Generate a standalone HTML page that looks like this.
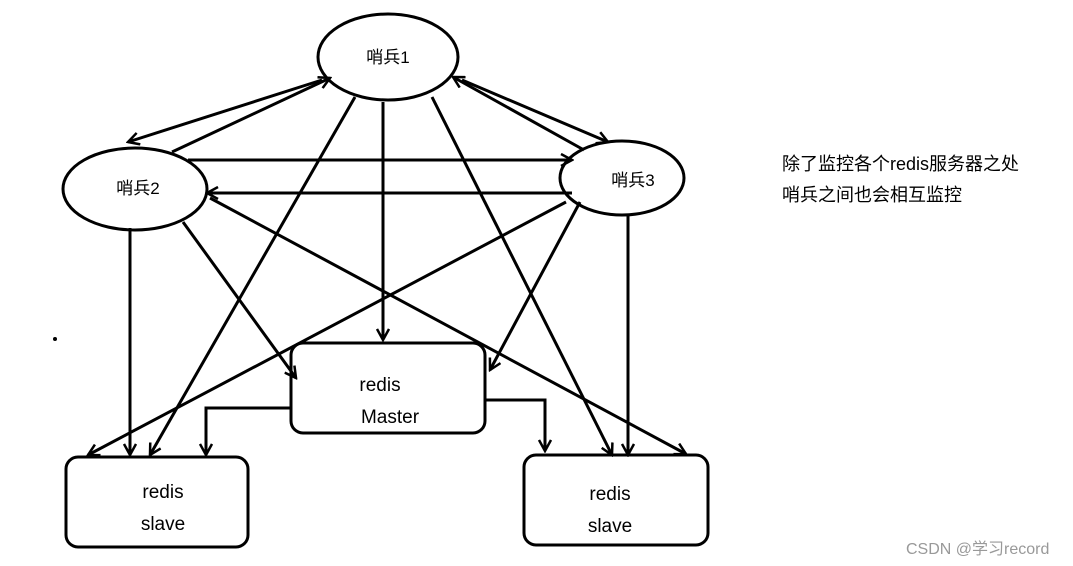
<!DOCTYPE html>
<html><head><meta charset="utf-8"><style>
body{margin:0;background:#fff;width:1073px;height:566px;overflow:hidden}
svg{display:block}
text{font-family:"Liberation Sans","Noto Sans CJK SC",sans-serif;fill:#000}
</style></head><body>
<svg width="1073" height="566" viewBox="0 0 1073 566">
<defs><marker id="a" markerWidth="14" markerHeight="14" refX="12" refY="7" orient="auto" markerUnits="userSpaceOnUse">
<path d="M1,1 L12,7 L1,13" fill="none" stroke="#000" stroke-width="2.5"/></marker></defs>
<g stroke="#000" stroke-width="3" fill="none">
<ellipse cx="388" cy="57" rx="70" ry="43"/>
<ellipse cx="135" cy="189" rx="72" ry="41"/>
<ellipse cx="622" cy="178" rx="62" ry="37"/>
<rect x="291" y="343" width="194" height="90" rx="12"/>
<rect x="66" y="457" width="182" height="90" rx="12"/>
<rect x="524" y="455" width="184" height="90" rx="12"/>
</g>
<g stroke="#000" stroke-width="3" fill="none" marker-end="url(#a)">
<line x1="322" y1="80" x2="128" y2="142"/>
<line x1="172" y1="152" x2="330" y2="78"/>
<line x1="462" y1="80" x2="608" y2="142"/>
<line x1="584" y1="150" x2="453" y2="77"/>
<line x1="188" y1="160" x2="572" y2="160"/>
<line x1="572" y1="193" x2="207" y2="193"/>
<line x1="383" y1="102" x2="383" y2="340"/>
<line x1="355" y1="97" x2="150" y2="455"/>
<line x1="432" y1="97" x2="612" y2="455"/>
<line x1="130" y1="228" x2="130" y2="455"/>
<line x1="183" y1="222" x2="296" y2="378"/>
<line x1="210" y1="198" x2="686" y2="454"/>
<line x1="566" y1="202" x2="88" y2="455"/>
<line x1="580" y1="202" x2="490" y2="370"/>
<line x1="628" y1="215" x2="628" y2="455"/>
<polyline points="291,408 206,408 206,455"/>
<polyline points="485,400 545,400 545,451"/>
</g>
<circle cx="55" cy="339" r="2" fill="#000"/>
<text x="388" y="63" font-size="17" text-anchor="middle">哨兵1</text>
<text x="138" y="194" font-size="17" text-anchor="middle">哨兵2</text>
<text x="633" y="186" font-size="17" text-anchor="middle">哨兵3</text>
<text x="380" y="391" font-size="19" text-anchor="middle">redis</text>
<text x="390" y="423" font-size="19" text-anchor="middle">Master</text>
<text x="163" y="498" font-size="19" text-anchor="middle">redis</text>
<text x="163" y="530" font-size="19" text-anchor="middle">slave</text>
<text x="610" y="500" font-size="19" text-anchor="middle">redis</text>
<text x="610" y="532" font-size="19" text-anchor="middle">slave</text>
<text x="782" y="170" font-size="18">除了监控各个redis服务器之处</text>
<text x="782" y="201" font-size="18">哨兵之间也会相互监控</text>
<text x="906" y="554" font-size="16" style="fill:#999">CSDN @学习record</text>
</svg>
</body></html>
